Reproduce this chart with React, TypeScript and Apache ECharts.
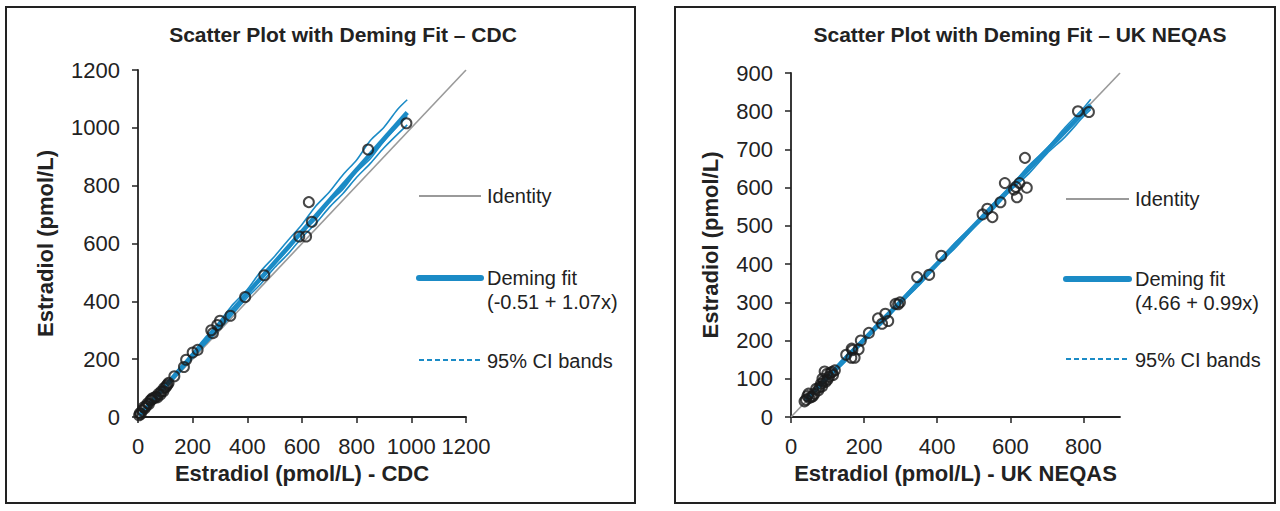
import React, { useEffect, useRef } from "react";
import * as echarts from "echarts";

// ---------- Data ----------
const cdcTitle = "Scatter Plot with Deming Fit – CDC";
const nqTitle = "Scatter Plot with Deming Fit – UK NEQAS";

const cdcTicks = [0, 200, 400, 600, 800, 1000, 1200];
const nqYTicks = [0, 100, 200, 300, 400, 500, 600, 700, 800, 900];
const nqXTicks = [0, 200, 400, 600, 800];

const cdcPoints: number[][] = [
  [4, 6], [7, 13], [10, 10], [16, 23], [21, 34], [25, 30], [30, 38], [35, 47], [40, 45],
  [46, 58], [50, 60], [53, 65], [60, 66], [65, 70], [71, 68], [75, 80], [82, 78], [85, 88],
  [93, 89], [95, 100], [101, 103], [105, 108], [108, 113], [112, 118],
  [133, 141], [168, 173], [176, 198], [200, 223], [218, 232], [268, 300], [274, 290],
  [290, 318], [300, 333], [338, 350], [392, 415], [462, 490], [590, 624], [615, 624],
  [625, 743], [636, 675], [842, 925], [982, 1016],
];
const cdcIdentity: number[][] = [[0, 0], [1200, 1200]];
const cdcFit: number[][] = [[8, 8.05], [985, 1053.4]];
const cdcUpper: number[][] = [
  [5, 6], [50, 58], [100, 113], [150, 168], [200, 222], [250, 279], [300, 332], [350, 392],
  [400, 441], [450, 505], [500, 556], [550, 612], [600, 666], [650, 729], [700, 778],
  [750, 838], [800, 889], [850, 956], [900, 1002], [950, 1064], [985, 1097],
];
const cdcLowerInner: number[][] = [
  [5, 4], [100, 104], [200, 213], [300, 314], [400, 427], [450, 474], [500, 530], [550, 580],
  [600, 637], [650, 684], [700, 743], [750, 788], [800, 848], [850, 893], [900, 954], [985, 1040],
];
const cdcLowerOuter: number[][] = [
  [5, 3], [100, 100], [200, 205], [300, 306], [400, 413], [450, 461], [500, 517], [550, 565],
  [600, 621], [650, 669], [700, 725], [750, 773], [800, 829], [850, 877], [900, 931], [985, 1010],
];

const nqPoints: number[][] = [
  [37, 41], [41, 45], [45, 55], [48, 61], [50, 50], [56, 52], [60, 55], [64, 61], [69, 74],
  [75, 70], [78, 78], [82, 87], [85, 80], [86, 100], [90, 95], [92, 119], [95, 92], [99, 113],
  [100, 98], [104, 105], [108, 115], [112, 118], [115, 110], [120, 122],
  [151, 163], [165, 155], [166, 179], [168, 175], [174, 155], [185, 177], [191, 200], [213, 220],
  [238, 258], [249, 244], [258, 270], [266, 251], [286, 296], [293, 295], [298, 300],
  [345, 366], [378, 372], [411, 422], [524, 530], [537, 545], [551, 523], [573, 562],
  [585, 612], [610, 595], [615, 602], [618, 575], [625, 612], [640, 678], [645, 600],
  [785, 800], [815, 798],
];
const nqIdentity: number[][] = [[0, 0], [900, 900]];
const nqFit: number[][] = [[40, 44.3], [820, 816.5]];
const nqUpper: number[][] = [
  [40, 47], [75, 84], [100, 108], [150, 160], [200, 207], [250, 259], [300, 306], [350, 358],
  [400, 405], [450, 457], [500, 503], [550, 555], [600, 602], [650, 657], [700, 703], [750, 758],
  [800, 808], [820, 831],
];
const nqLower: number[][] = [
  [40, 41], [75, 74], [100, 100], [150, 146], [200, 199], [250, 245], [300, 298], [350, 344],
  [400, 398], [450, 443], [500, 495], [550, 540], [600, 592], [650, 636], [700, 689], [750, 733],
  [800, 786], [820, 805],
];

const cdcLegend = ["Identity", "Deming fit", "(-0.51 + 1.07x)", "95% CI bands"];
const nqLegend = ["Identity", "Deming fit", "(4.66 + 0.99x)", "95% CI bands"];

// ---------- Styles ----------
const FONT = "'Liberation Sans', Arial, sans-serif";
const TXT = "#222";
const BLUE = "#1b8bc6";
const GRAY = "#9a9a9a";

function axisBase(min: number, max: number, interval: number, name: string, nameGap: number, ticks: number[]) {
  return {
    type: "value",
    min,
    max,
    interval,
    name,
    nameLocation: "middle",
    nameGap,
    nameTextStyle: { fontFamily: FONT, fontSize: 22, fontWeight: "bold", color: TXT },
    axisLine: { show: true, onZero: false, lineStyle: { color: TXT, width: 1.8 } },
    axisTick: { show: true, length: 6, customValues: ticks, lineStyle: { color: TXT, width: 1.5 } },
    axisLabel: {
      fontFamily: FONT,
      fontSize: 22,
      color: TXT,
      margin: 18,
      customValues: ticks,
      formatter: (v: number) => String(v),
    },
    splitLine: { show: false },
  };
}

function lineSeries(data: number[][], idx: number, color: string, width: number, z: number) {
  return {
    type: "line",
    xAxisIndex: idx,
    yAxisIndex: idx,
    data,
    showSymbol: false,
    symbol: "none",
    smooth: 0.3,
    lineStyle: { color, width },
    z,
    silent: true,
  };
}

function legendGraphics(x0: number, x1: number, tx: number, yId: number, yFit: number, yCi: number, labels: string[]) {
  const t = (text: string, y: number) => ({
    type: "text",
    style: { text, x: tx, y, fontFamily: FONT, fontSize: 20, fill: TXT, textVerticalAlign: "middle" },
  });
  return [
    { type: "line", shape: { x1: x0, y1: yId, x2: x1, y2: yId }, style: { stroke: GRAY, lineWidth: 2 } },
    t(labels[0], yId),
    { type: "line", shape: { x1: x0, y1: yFit, x2: x1, y2: yFit }, style: { stroke: BLUE, lineWidth: 6, lineCap: "round" } },
    t(labels[1], yFit),
    t(labels[2], yFit + 24),
    { type: "line", shape: { x1: x0, y1: yCi, x2: x1, y2: yCi }, style: { stroke: BLUE, lineWidth: 2, lineDash: [5, 3] } },
    t(labels[3], yCi + 1),
  ];
}

export default function App() {
  const ref = useRef<HTMLDivElement>(null);
  useEffect(() => {
    if (!ref.current) return;
    const chart = echarts.init(ref.current, undefined, { renderer: "svg" });
    const scatterStyle = {
      type: "scatter",
      symbol: "circle",
      symbolSize: 10,
      itemStyle: { color: "rgba(0,0,0,0)", borderColor: "#1a1a1a", borderWidth: 2 },
      z: 10,
      silent: true,
    };
    const titleStyle = { fontFamily: FONT, fontSize: 21, fontWeight: "bold", color: TXT };
    chart.setOption({
      animation: false,
      backgroundColor: "#fff",
      title: [
        { text: cdcTitle, left: 338, top: 19, textAlign: "center", textStyle: titleStyle },
        { text: nqTitle, left: 1015, top: 19, textAlign: "center", textStyle: titleStyle },
      ],
      grid: [
        { left: 138, top: 70, width: 328, height: 347, containLabel: false },
        { left: 791, top: 73, width: 329, height: 344, containLabel: false },
      ],
      xAxis: [
        { ...axisBase(0, 1200, 200, "Estradiol (pmol/L) - CDC", 45, cdcTicks), gridIndex: 0 },
        { ...axisBase(0, 900, 100, "Estradiol (pmol/L) - UK NEQAS", 45, nqXTicks), gridIndex: 1 },
      ],
      yAxis: [
        { ...axisBase(0, 1200, 200, "Estradiol (pmol/L)", 82, cdcTicks), gridIndex: 0 },
        { ...axisBase(0, 900, 100, "Estradiol (pmol/L)", 70, nqYTicks), gridIndex: 1 },
      ],
      series: [
        lineSeries(cdcIdentity, 0, GRAY, 1.6, 1),
        lineSeries(cdcUpper, 0, BLUE, 1.6, 2),
        lineSeries(cdcLowerInner, 0, BLUE, 1.6, 2),
        lineSeries(cdcLowerOuter, 0, BLUE, 1.6, 2),
        lineSeries(cdcFit, 0, BLUE, 4.5, 3),
        { ...scatterStyle, xAxisIndex: 0, yAxisIndex: 0, data: cdcPoints },
        lineSeries(nqIdentity, 1, GRAY, 1.6, 1),
        lineSeries(nqUpper, 1, BLUE, 1.6, 2),
        lineSeries(nqLower, 1, BLUE, 1.6, 2),
        lineSeries(nqFit, 1, BLUE, 4.5, 3),
        { ...scatterStyle, xAxisIndex: 1, yAxisIndex: 1, data: nqPoints },
      ],
      graphic: [
        { type: "rect", shape: { x: 6, y: 7, width: 629, height: 496 }, style: { fill: "none", stroke: "#222", lineWidth: 2 } },
        { type: "rect", shape: { x: 675, y: 7, width: 600, height: 496 }, style: { fill: "none", stroke: "#222", lineWidth: 2 } },
        ...legendGraphics(419, 481, 487, 196, 278, 360, cdcLegend),
        ...legendGraphics(1066, 1129, 1135, 199, 279, 359, nqLegend),
      ],
    });
    return () => chart.dispose();
  }, []);
  return <div ref={ref} style={{ position: "absolute", left: 0, top: 0, width: 1280, height: 511 }} />;
}
